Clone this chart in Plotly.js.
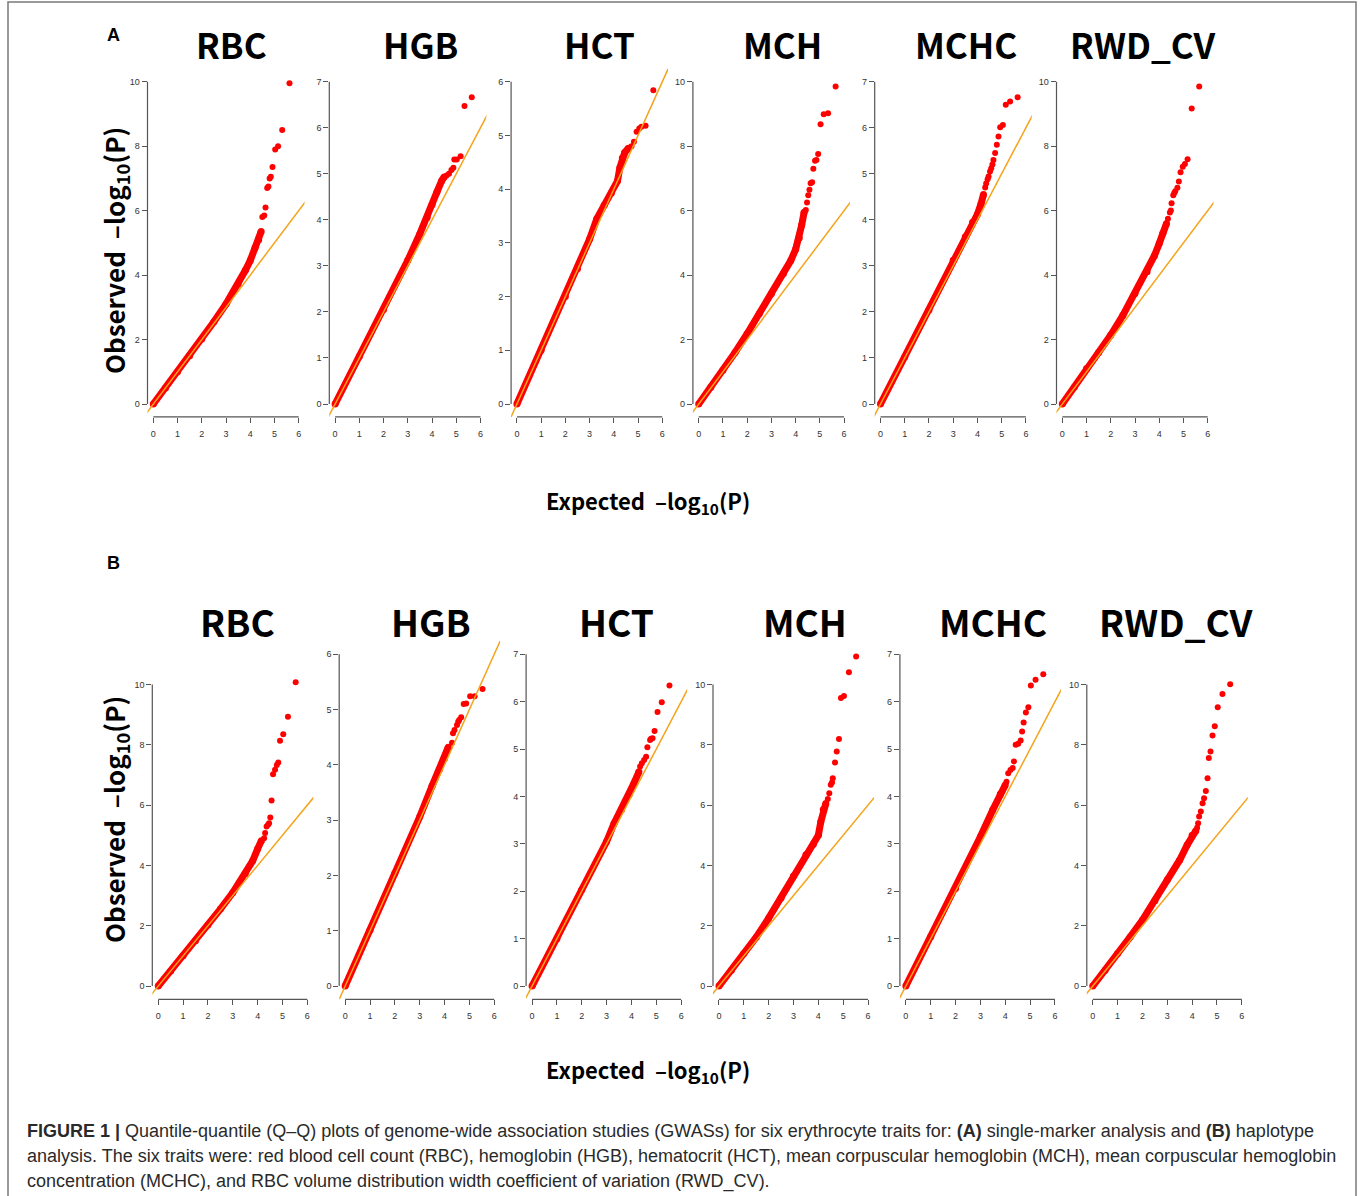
<!DOCTYPE html>
<html><head><meta charset="utf-8">
<script src="https://cdn.plot.ly/plotly-3.0.1.min.js"></script>
<style>html,body{margin:0;padding:0;background:#fff;}#chart{width:1360px;height:1196px;}</style>
</head><body><div id="chart"></div>
<script>
// ---------- categories & labels ----------
const traits = ['RBC', 'HGB', 'HCT', 'MCH', 'MCHC', 'RWD_CV'];
const panelLetters = ['A', 'B'];
const xTicks = [0, 1, 2, 3, 4, 5, 6];
const refLine = [-1, 12];           // y = x reference line
const xTitleText = 'Expected  –log<sub>10</sub>(P)';
const yTitleText = 'Observed  –log<sub>10</sub>(P)';

// ---------- (A) single-marker analysis ----------
const A_RBC_bandX = [0, 0.5, 1, 1.5, 2, 2.5, 3, 3.5, 3.8, 4.0, 4.2, 4.35, 4.45];
const A_RBC_bandY = [0, 0.5, 1, 1.5, 2.02, 2.55, 3.1, 3.72, 4.15, 4.45, 4.85, 5.1, 5.35];
const A_RBC_tailX = [4.5, 4.58, 4.63, 4.7, 4.75, 4.8, 4.85, 4.92, 5.03, 5.15, 5.32, 5.62];
const A_RBC_tailY = [5.8, 5.85, 6.1, 6.7, 6.75, 7.0, 7.05, 7.35, 7.9, 8.0, 8.5, 9.95];

const A_HGB_bandX = [0, 1, 2, 3, 3.5, 3.8, 4.0, 4.2, 4.4, 4.5];
const A_HGB_bandY = [0, 1.03, 2.05, 3.12, 3.7, 4.05, 4.33, 4.6, 4.85, 4.93];
const A_HGB_tailX = [4.6, 4.7, 4.8, 4.88, 4.92, 5.02, 5.18, 5.34, 5.64];
const A_HGB_tailY = [4.96, 5.0, 5.08, 5.13, 5.31, 5.31, 5.38, 6.47, 6.66];

const A_HCT_bandX = [0, 1, 2, 2.5, 3, 3.3, 3.6, 3.9, 4.15, 4.25, 4.35, 4.45, 4.6];
const A_HCT_bandY = [0, 1.0, 2.0, 2.52, 3.07, 3.45, 3.7, 3.93, 4.15, 4.4, 4.58, 4.68, 4.76];
const A_HCT_tailX = [4.73, 4.83, 4.94, 5.05, 5.14, 5.31, 5.63];
const A_HCT_tailY = [4.8, 4.88, 5.07, 5.13, 5.16, 5.18, 5.84];

const A_MCH_bandX = [0, 0.5, 1, 1.5, 2, 2.5, 3, 3.5, 3.8, 4.0, 4.15, 4.25, 4.35];
const A_MCH_bandY = [0, 0.52, 1.05, 1.6, 2.18, 2.8, 3.42, 4.05, 4.45, 4.8, 5.15, 5.55, 5.95];
const A_MCH_tailX = [4.42, 4.47, 4.52, 4.57, 4.62, 4.68, 4.73, 4.8, 4.86, 4.93, 5.03, 5.16, 5.34, 5.65];
const A_MCH_tailY = [6.02, 6.25, 6.48, 6.65, 6.85, 6.88, 7.3, 7.55, 7.57, 7.76, 8.68, 8.99, 9.02, 9.85];

const A_MCHC_bandX = [0, 1, 2, 3, 3.5, 3.8, 4.0, 4.15, 4.25];
const A_MCHC_bandY = [0, 1.02, 2.04, 3.12, 3.63, 3.95, 4.12, 4.35, 4.55];
const A_MCHC_tailX = [4.32, 4.36, 4.42, 4.46, 4.52, 4.57, 4.62, 4.66, 4.73, 4.8, 4.87, 4.94, 5.05, 5.17, 5.35, 5.66];
const A_MCHC_tailY = [4.7, 4.79, 4.88, 4.94, 5.05, 5.12, 5.2, 5.3, 5.45, 5.63, 5.81, 6.01, 6.06, 6.5, 6.57, 6.66];

const A_RWD_bandX = [0, 0.5, 1, 1.5, 2, 2.5, 3, 3.5, 3.8, 4.0, 4.15, 4.3];
const A_RWD_bandY = [0, 0.53, 1.1, 1.6, 2.14, 2.75, 3.43, 4.1, 4.6, 4.98, 5.3, 5.6];
const A_RWD_tailX = [4.36, 4.44, 4.48, 4.51, 4.58, 4.62, 4.66, 4.75, 4.81, 4.88, 4.97, 5.06, 5.17, 5.34, 5.65];
const A_RWD_tailY = [5.75, 5.94, 6.0, 6.23, 6.48, 6.55, 6.6, 6.71, 6.9, 7.19, 7.36, 7.45, 7.59, 9.17, 9.85];

// ---------- (B) haplotype analysis ----------
const B_RBC_bandX = [0, 0.5, 1, 1.5, 2, 2.5, 3, 3.5, 3.8, 4.0, 4.15];
const B_RBC_bandY = [0, 0.5, 1.0, 1.5, 2.02, 2.55, 3.1, 3.72, 4.15, 4.55, 4.82];
const B_RBC_tailX = [4.26, 4.3, 4.36, 4.42, 4.46, 4.51, 4.56, 4.62, 4.7, 4.77, 4.83, 4.9, 5.03, 5.22, 5.53];
const B_RBC_tailY = [4.9, 5.07, 5.29, 5.35, 5.4, 5.59, 6.15, 7.02, 7.17, 7.33, 7.41, 8.13, 8.35, 8.93, 10.07];

const B_HGB_bandX = [0, 1, 2, 3, 3.5, 3.8, 4.0, 4.15];
const B_HGB_bandY = [0, 1.01, 2.04, 3.06, 3.62, 3.92, 4.12, 4.32];
const B_HGB_tailX = [4.3, 4.34, 4.4, 4.5, 4.55, 4.59, 4.67, 4.77, 4.87, 5.03, 5.21, 5.53];
const B_HGB_tailY = [4.4, 4.57, 4.63, 4.72, 4.78, 4.81, 4.86, 5.1, 5.11, 5.24, 5.24, 5.37];

const B_HCT_bandX = [0, 1, 2, 3, 3.3, 3.6, 3.9, 4.1, 4.3];
const B_HCT_bandY = [0, 1.0, 2.03, 3.05, 3.43, 3.72, 4.03, 4.28, 4.52];
const B_HCT_tailX = [4.35, 4.42, 4.51, 4.59, 4.64, 4.75, 4.79, 4.85, 4.93, 5.05, 5.22, 5.53];
const B_HCT_tailY = [4.63, 4.7, 4.77, 4.84, 5.04, 5.19, 5.22, 5.23, 5.38, 5.78, 5.99, 6.34];

const B_MCH_bandX = [0, 0.5, 1, 1.5, 2, 2.5, 3, 3.5, 3.8, 4.0, 4.1, 4.2, 4.3];
const B_MCH_bandY = [0, 0.52, 1.08, 1.62, 2.25, 2.92, 3.65, 4.35, 4.7, 5.0, 5.45, 5.85, 6.05];
const B_MCH_tailX = [4.38, 4.44, 4.5, 4.55, 4.58, 4.67, 4.74, 4.83, 4.91, 5.03, 5.23, 5.52];
const B_MCH_tailY = [6.2, 6.39, 6.67, 6.75, 6.89, 7.41, 7.78, 8.19, 9.55, 9.62, 10.4, 10.93];

const B_MCHC_bandX = [0, 1, 2, 3, 3.5, 3.8, 4.0];
const B_MCHC_bandY = [0, 1.04, 2.06, 3.15, 3.72, 4.05, 4.24];
const B_MCHC_tailX = [4.05, 4.12, 4.21, 4.3, 4.35, 4.42, 4.52, 4.62, 4.68, 4.74, 4.83, 4.93, 5.03, 5.22, 5.53];
const B_MCHC_tailY = [4.31, 4.49, 4.56, 4.6, 4.74, 5.09, 5.11, 5.18, 5.37, 5.56, 5.77, 5.88, 6.34, 6.46, 6.58];

const B_RWD_bandX = [0, 0.5, 1, 1.5, 2, 2.5, 3, 3.5, 3.8, 4.0, 4.15];
const B_RWD_bandY = [0, 0.52, 1.08, 1.62, 2.19, 2.83, 3.52, 4.18, 4.68, 5.0, 5.15];
const B_RWD_tailX = [4.2, 4.24, 4.28, 4.35, 4.42, 4.48, 4.55, 4.62, 4.67, 4.74, 4.82, 4.91, 5.03, 5.22, 5.53];
const B_RWD_tailY = [5.25, 5.4, 5.62, 5.79, 6.06, 6.23, 6.47, 6.89, 7.56, 7.78, 8.31, 8.61, 9.24, 9.68, 10.01];

const panelsA = [
  [A_RBC_bandX, A_RBC_bandY, A_RBC_tailX, A_RBC_tailY],
  [A_HGB_bandX, A_HGB_bandY, A_HGB_tailX, A_HGB_tailY],
  [A_HCT_bandX, A_HCT_bandY, A_HCT_tailX, A_HCT_tailY],
  [A_MCH_bandX, A_MCH_bandY, A_MCH_tailX, A_MCH_tailY],
  [A_MCHC_bandX, A_MCHC_bandY, A_MCHC_tailX, A_MCHC_tailY],
  [A_RWD_bandX, A_RWD_bandY, A_RWD_tailX, A_RWD_tailY]
];
const panelsB = [
  [B_RBC_bandX, B_RBC_bandY, B_RBC_tailX, B_RBC_tailY],
  [B_HGB_bandX, B_HGB_bandY, B_HGB_tailX, B_HGB_tailY],
  [B_HCT_bandX, B_HCT_bandY, B_HCT_tailX, B_HCT_tailY],
  [B_MCH_bandX, B_MCH_bandY, B_MCH_tailX, B_MCH_tailY],
  [B_MCHC_bandX, B_MCHC_bandY, B_MCHC_tailX, B_MCHC_tailY],
  [B_RWD_bandX, B_RWD_bandY, B_RWD_tailX, B_RWD_tailY]
];

const captionLines = [
  '<b>FIGURE 1 |</b> Quantile-quantile (Q–Q) plots of genome-wide association studies (GWASs) for six erythrocyte traits for: <b>(A)</b> single-marker analysis and <b>(B)</b> haplotype',
  'analysis. The six traits were: red blood cell count (RBC), hemoglobin (HGB), hematocrit (HCT), mean corpuscular hemoglobin (MCH), mean corpuscular hemoglobin',
  'concentration (MCHC), and RBC volume distribution width coefficient of variation (RWD_CV).'
];

// ---------- layout geometry (pixels) ----------
const W = 1360, H = 1196;
const RED = '#FF0000', ORANGE = '#F5A31A', AXC = '#555555';
const XPAD = 0.04; // R-style 4% axis extension
const rows = [
  {top: 68.8, bottom: 416.9, left0: 147.5, pitch: 181.8, width: 157, data: panelsA,
   titleY: 43, titleX: [231, 420, 599, 783, 966, 1143], titleSize: 35, letterY: 35, yTitleY: 251, xTitleY: 501},
  {top: 641, bottom: 999.3, left0: 152.3, pitch: 186.9, width: 161, data: panelsB,
   titleY: 621, titleX: [238, 431, 616, 805, 993, 1176], titleSize: 37, letterY: 563, yTitleY: 820, xTitleY: 1070}
];

const traces = [];
const shapes = [];
const annotations = [];
const layout = {
  width: W, height: H, margin: {l: 0, r: 0, t: 0, b: 0},
  paper_bgcolor: '#fff', plot_bgcolor: 'rgba(0,0,0,0)', showlegend: false,
  shapes: shapes, annotations: annotations
};

const tickFont = {family: 'Liberation Sans, Arial, sans-serif', size: 9, color: '#333'};
const px = v => v / W;
const py = v => 1 - v / H;

let k = 0;
rows.forEach((row, r) => {
  row.data.forEach((p, i) => {
    k++;
    const sfx = k === 1 ? '' : String(k);
    const xa = 'x' + sfx, ya = 'y' + sfx;
    const allY = p[1].concat(p[3]);
    const allX = p[0].concat(p[2]);
    const ymax = Math.ceil(Math.max(...allY));
    const xmax = Math.ceil(Math.max(...allX));
    const dt = ymax >= 10 ? 2 : 1;
    const lastTick = Math.floor(ymax / dt) * dt;
    const left = row.left0 + i * row.pitch, right = left + row.width;
    const xr = [-XPAD * xmax, (1 + XPAD) * xmax];
    const yr = [-XPAD * ymax, (1 + XPAD) * ymax];
    layout['xaxis' + sfx] = {
      domain: [px(left), px(right)], range: xr, anchor: ya,
      showgrid: false, zeroline: false, showline: false,
      ticks: 'outside', ticklen: 5, tickwidth: 1, tickcolor: AXC,
      tickmode: 'array', tickvals: xTicks, tickfont: tickFont, ticklabelstandoff: 3, fixedrange: true
    };
    layout['yaxis' + sfx] = {
      domain: [py(row.bottom), py(row.top)], range: yr, anchor: xa,
      showgrid: false, zeroline: false, showline: false,
      ticks: 'outside', ticklen: 5, tickwidth: 1, tickcolor: AXC,
      tickmode: 'linear', tick0: 0, dtick: dt, tickfont: tickFont, fixedrange: true
    };
    // R-style axis lines spanning first..last tick (paper coords)
    const w = right - left, h = row.bottom - row.top;
    const xToPx = v => left + (v - xr[0]) / (xr[1] - xr[0]) * w;
    const yToPx = v => row.bottom - (v - yr[0]) / (yr[1] - yr[0]) * h;
    shapes.push({type: 'line', xref: 'paper', yref: 'paper',
      x0: px(xToPx(xTicks[0])), x1: px(xToPx(xTicks[xTicks.length - 1])), y0: py(row.bottom), y1: py(row.bottom),
      line: {color: AXC, width: 1.2}});
    shapes.push({type: 'line', xref: 'paper', yref: 'paper',
      x0: px(left), x1: px(left), y0: py(yToPx(0)), y1: py(yToPx(lastTick)),
      line: {color: AXC, width: 1.2}});

    traces.push({x: p[0], y: p[1], xaxis: xa, yaxis: ya, mode: 'lines+markers', hoverinfo: 'skip',
      line: {color: RED, width: 7}, marker: {color: RED, size: 7}});
    traces.push({x: p[2], y: p[3], xaxis: xa, yaxis: ya, mode: 'markers', hoverinfo: 'skip',
      marker: {color: RED, size: 6}});
    traces.push({x: refLine, y: refLine, xaxis: xa, yaxis: ya, mode: 'lines', hoverinfo: 'skip',
      line: {color: ORANGE, width: 1.5}});

    annotations.push({xref: 'paper', yref: 'paper', x: px(row.titleX[i]), y: py(row.titleY),
      xanchor: 'center', yanchor: 'middle', showarrow: false, text: '<b>' + traits[i] + '</b>',
      font: {family: 'Noto Sans CJK SC, Noto Sans, sans-serif', size: row.titleSize, color: '#000'}});
  });
  annotations.push({xref: 'paper', yref: 'paper', x: px(114), y: py(row.letterY), xanchor: 'center', yanchor: 'middle',
    showarrow: false, text: '<b>' + panelLetters[r] + '</b>', font: {family: 'Liberation Sans, Arial, sans-serif', size: 18, color: '#000'}});
  annotations.push({xref: 'paper', yref: 'paper', x: px(115), y: py(row.yTitleY), xanchor: 'center', yanchor: 'middle',
    textangle: -90, showarrow: false, text: '<b>' + yTitleText + '</b>',
    font: {family: 'Noto Sans CJK SC, Noto Sans, sans-serif', size: 26, color: '#000'}});
  annotations.push({xref: 'paper', yref: 'paper', x: px(648), y: py(row.xTitleY), xanchor: 'center', yanchor: 'middle',
    showarrow: false, text: '<b>' + xTitleText + '</b>',
    font: {family: 'Noto Sans CJK SC, Noto Sans, sans-serif', size: 22, color: '#000'}});
});

captionLines.forEach((t, j) => {
  annotations.push({xref: 'paper', yref: 'paper', x: px(25), y: py(1131 + j * 25), xanchor: 'left', yanchor: 'middle',
    showarrow: false, text: t, align: 'left',
    font: {family: 'Liberation Sans Narrow, Arial Narrow, Liberation Sans, sans-serif', size: 18, color: '#2a2a2a'}});
});

// figure frame
shapes.push({type: 'rect', xref: 'paper', yref: 'paper', x0: px(8), x1: px(1356), y0: py(1205), y1: py(2),
  line: {color: '#7a7a7a', width: 1.5}, fillcolor: 'rgba(0,0,0,0)'});

Plotly.newPlot('chart', traces, layout, {staticPlot: true, displayModeBar: false});
</script>
</body></html>
